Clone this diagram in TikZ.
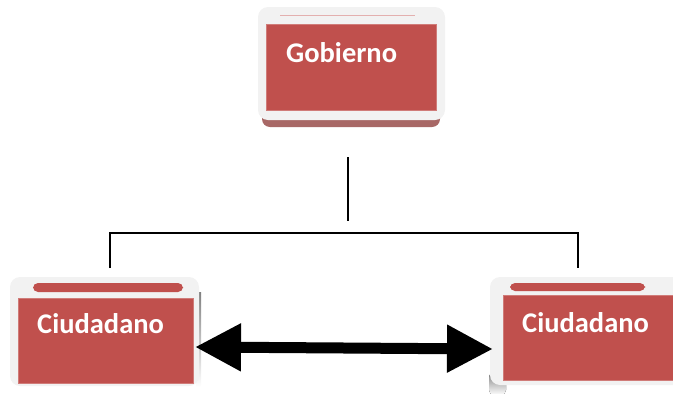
\documentclass[tikz,border=0pt]{standalone}
\usepackage{fontspec}
\setmainfont{Carlito}
\usetikzlibrary{arrows.meta,calc}
\definecolor{boxred}{HTML}{C0504D}
\definecolor{glow}{HTML}{F2F2F2}
\definecolor{shade}{HTML}{A86866}
\begin{document}
\begin{tikzpicture}[x=1pt,y=-1pt,
  redbox/.style={fill=boxred, draw=boxred!75!white, line width=0.8pt, inner sep=0pt, anchor=north west},
  glowbox/.style={fill=glow, rounded corners=10pt},
  shadebox/.style={fill=shade, rounded corners=8pt},
  backred/.style={fill=boxred, rounded corners=5pt},
  boxlabel/.style={font=\bfseries\fontsize{28.5}{30}\selectfont, text=white, anchor=base west, inner sep=0pt},
  conn/.style={line width=1.3pt, draw=black},
  bigarrow/.style={line width=11pt, {Triangle[length=46pt,width=45pt]}-{Triangle[length=46pt,width=45pt]}}]
\useasboundingbox (0,0) rectangle (673,394);
% Gobierno
\fill[shadebox] (262,95) rectangle (440,127);
\fill[glowbox] (258,7) rectangle (445,120);
\draw[boxred!45, line width=1pt] (280,15) -- (415,15);
\node[redbox, minimum width=170pt, minimum height=86pt] (gob) at (266,24) {};
\node[boxlabel] (gobt) at (286,62) {Gobierno};
% Ciudadano left
\fill[shade] (196,292) rectangle (201,387);
\fill[glowbox] (10,277) rectangle (199,386);
\fill[backred] (33,283) rectangle (183,292);
\node[redbox, minimum width=175pt, minimum height=85pt] (cl) at (18,298) {};
\node[boxlabel] (clt) at (37,333) {Ciudadano};
% Ciudadano right
\fill[shade, rounded corners=5pt] (489,372) rectangle (506,395);
\fill[glowbox] (490,277) rectangle (700,385);
\fill[backred] (510,283) rectangle (645,291);
\node[redbox, minimum width=172pt, minimum height=85pt] (cr) at (503,295) {};
\node[boxlabel] (crt) at (522,332) {Ciudadano};
% connectors
\coordinate (vtop) at (348,157);
\coordinate (vbot) at (348,221);
\coordinate (hl) at (110,233);
\coordinate (hr) at (578,233);
\coordinate (dl) at (110,268);
\coordinate (dr) at (578,268);
\draw[conn] (vtop) -- (vbot);
\draw[conn] (dl) -- (hl) -- (hr) -- (dr);
\coordinate (al) at (195,347);
\coordinate (ar) at (493,349);
\draw[bigarrow] (al) -- (ar);
\end{tikzpicture}
\end{document}
